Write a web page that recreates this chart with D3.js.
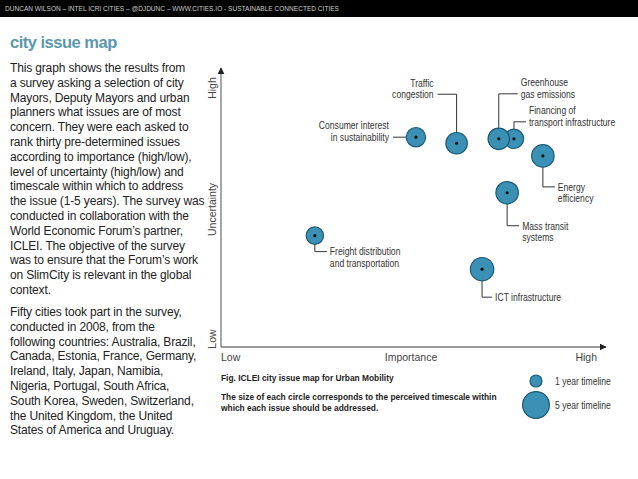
<!DOCTYPE html>
<html>
<head>
<meta charset="utf-8">
<script src="https://cdn.jsdelivr.net/npm/d3@7"></script>
<style>
  body { margin: 0; background: #fff; }
  svg { display: block; }
  .body-text { font-family: "Liberation Sans", Arial, sans-serif; font-size: 12px; fill: #222; letter-spacing: -0.15px; }
  .lbl { font-family: "Liberation Sans", Arial, sans-serif; font-size: 11px; fill: #333; }
  .axis-lbl { font-family: "Liberation Sans", Arial, sans-serif; font-size: 10.5px; fill: #444; }
</style>
</head>
<body>
<svg id="chart"></svg>
<script>
const width = 638;
const height = 479;

// survey results
const issues = ["Freight distribution and transportation", "Consumer interest in sustainability", "Traffic congestion",
  "Financing of transport infrastructure", "Greenhouse gas emissions", "Energy efficiency", "Mass transit systems", "ICT infrastructure"];
const labelLines = [["Freight distribution", "and transportation"], ["Consumer interest", "in sustainability"], ["Traffic", "congestion"],
  ["Financing of", "transport infrastructure"], ["Greenhouse", "gas emissions"], ["Energy", "efficiency"], ["Mass transit", "systems"], ["ICT infrastructure"]];
const importance = [2.47, 5.13, 6.2, 7.71, 7.31, 8.47, 7.53, 6.87];
const uncertainty = [4.05, 7.63, 7.41, 7.57, 7.57, 6.95, 5.61, 2.83];
const timescale = [2.1, 2.6, 3.2, 2.6, 3.2, 3.5, 3.5, 3.8];

// how each label's leader line is routed
const leaders = [
  {dir: "downRight", dy: 16, dx: 12},
  {dir: "left", dy: 0, dx: -23},
  {dir: "upLeft", dy: -49, dx: -19},
  {dir: "upRight", dy: -17, dx: 12},
  {dir: "upRight", dy: -45, dx: 19},
  {dir: "downRight", dy: 31, dx: 12},
  {dir: "downRight", dy: 33, dx: 12},
  {dir: "downRight", dy: 28, dx: 10}
];

const legendYears = [1, 5];

const para1 = ["This graph shows the results from", "a survey asking a selection of city", "Mayors, Deputy Mayors and urban",
  "planners what issues are of most", "concern. They were each asked to", "rank thirty pre-determined issues",
  "according to importance (high/low),", "level of uncertainty (high/low) and", "timescale within which to address",
  "the issue (1-5 years). The survey was", "conducted in collaboration with the", "World Economic Forum\u2019s partner,",
  "ICLEI. The objective of the survey", "was to ensure that the Forum\u2019s work", "on SlimCity is relevant in the global", "context."];
const para2 = ["Fifty cities took part in the survey,", "conducted in 2008, from the", "following countries: Australia, Brazil,",
  "Canada, Estonia, France, Germany,", "Ireland, Italy, Japan, Namibia,", "Nigeria, Portugal, South Africa,",
  "South Korea, Sweden, Switzerland,", "the United Kingdom, the United", "States of America and Uruguay."];

const narrow = 0.78; // horizontal squeeze for the condensed label face

const svg = d3.select("#chart")
    .attr("width", width)
    .attr("height", height);

// header bar
svg.append("rect").attr("width", width).attr("height", 17).attr("fill", "#000");
svg.append("text")
    .attr("x", 5).attr("y", 11)
    .attr("font-family", "Liberation Sans, Arial, sans-serif")
    .attr("font-size", 7.4).attr("fill", "#ccc")
    .attr("textLength", 334).attr("lengthAdjust", "spacingAndGlyphs")
    .text("DUNCAN WILSON \u2013 INTEL ICRI CITIES \u2013 @DJDUNC \u2013 WWW.CITIES.IO - SUSTAINABLE CONNECTED CITIES");

svg.append("text")
    .attr("x", 10).attr("y", 48)
    .attr("font-family", "Liberation Sans, Arial, sans-serif")
    .attr("font-weight", "bold").attr("font-size", 16.5)
    .attr("letter-spacing", -0.5)
    .attr("fill", "#5b98ae")
    .text("city issue map");

const lineH = 14.8;
svg.append("g").selectAll("text")
    .data(para1)
    .join("text")
    .attr("class", "body-text")
    .attr("x", 10)
    .attr("y", (d, i) => 72 + i * lineH)
    .text(d => d);

svg.append("g").selectAll("text")
    .data(para2)
    .join("text")
    .attr("class", "body-text")
    .attr("x", 10)
    .attr("y", (d, i) => 316 + i * lineH)
    .text(d => d);

// scales
const x = d3.scaleLinear().domain([0, 10]).range([221, 601]);
const y = d3.scaleLinear().domain([0, 10]).range([347, 72]);
const r = d3.scaleSqrt().domain([0, 5]).range([0, 13.4]);

const axisColor = "#777";
svg.append("defs").append("marker")
    .attr("id", "arrow")
    .attr("viewBox", "0 0 10 10")
    .attr("refX", 9).attr("refY", 5)
    .attr("markerWidth", 7).attr("markerHeight", 7)
    .attr("markerUnits", "userSpaceOnUse")
    .attr("orient", "auto")
    .append("path").attr("d", "M0,0L10,5L0,10z").attr("fill", "#222");

svg.append("line")
    .attr("x1", x(0)).attr("y1", y(0))
    .attr("x2", x(0)).attr("y2", y(10) - 4)
    .attr("stroke", axisColor).attr("stroke-width", 1.3)
    .attr("marker-end", "url(#arrow)");
svg.append("line")
    .attr("x1", x(0)).attr("y1", y(0))
    .attr("x2", x(10) + 5).attr("y2", y(0))
    .attr("stroke", axisColor).attr("stroke-width", 1.3)
    .attr("marker-end", "url(#arrow)");

// axis labels
svg.append("text").attr("class", "axis-lbl").attr("x", x(0)).attr("y", 361).text("Low");
svg.append("text").attr("class", "axis-lbl").attr("x", x(5)).attr("y", 361).attr("text-anchor", "middle").text("Importance");
svg.append("text").attr("class", "axis-lbl").attr("x", x(10) - 4).attr("y", 361).attr("text-anchor", "end").text("High");

const yl = [["High", y(10) + 16], ["Uncertainty", y(5)], ["Low", y(0) - 8]];
svg.append("g").selectAll("text")
    .data(yl)
    .join("text")
    .attr("class", "axis-lbl")
    .attr("text-anchor", "middle")
    .attr("transform", d => `translate(216,${d[1]}) rotate(-90)`)
    .text(d => d[0]);

// leader lines and labels
const order = d3.range(issues.length);
const ann = svg.append("g");
order.forEach(i => {
  const cx = x(importance[i]), cy = y(uncertainty[i]);
  const L = leaders[i];
  const ex = cx + L.dx, ey = cy + L.dy;
  const n = labelLines[i].length;
  let path, tx, anchor, firstY;
  if (L.dir === "left") {
    path = `M${cx},${cy}H${ex}`;
    tx = ex - 4; anchor = "end"; firstY = ey - (n - 1) * 11.5;
  } else if (L.dir === "upLeft") {
    path = `M${cx},${cy}V${ey}H${ex}`;
    tx = ex - 4; anchor = "end"; firstY = ey - (n - 1) * 11.5;
  } else if (L.dir === "upRight") {
    path = `M${cx},${cy}V${ey}H${ex}`;
    tx = ex + 3; anchor = "start"; firstY = ey - (n - 1) * 11.5;
  } else {
    path = `M${cx},${cy}V${ey}H${ex}`;
    tx = ex + 3; anchor = "start"; firstY = ey;
  }
  ann.append("path").attr("d", path).attr("fill", "none").attr("stroke", "#333").attr("stroke-width", 1);
  ann.append("text")
      .attr("class", "lbl")
      .attr("text-anchor", anchor)
      .attr("transform", `translate(${tx},0) scale(${narrow},1)`)
      .selectAll("tspan")
      .data(labelLines[i])
      .join("tspan")
      .attr("x", 0)
      .attr("y", (d, j) => firstY + j * 11.5 + 3.8)
      .text(d => d);
});

// bubbles
const bubbles = svg.append("g").selectAll("g")
    .data(order)
    .join("g")
    .attr("transform", i => `translate(${x(importance[i])},${y(uncertainty[i])})`);

bubbles.append("circle")
    .attr("r", i => r(timescale[i]))
    .attr("fill", "#3a90b5")
    .attr("stroke", "#1d5a74")
    .attr("stroke-width", 1.2);

bubbles.append("circle")
    .attr("r", 1.6)
    .attr("fill", "#111");

// caption
svg.append("text")
    .attr("x", 221).attr("y", 381)
    .attr("font-family", "Liberation Sans, Arial, sans-serif")
    .attr("font-weight", "bold").attr("font-size", 8.4).attr("fill", "#222")
    .text("Fig. ICLEI city issue map for Urban Mobility");
svg.append("text")
    .attr("font-family", "Liberation Sans, Arial, sans-serif")
    .attr("font-weight", "bold").attr("font-size", 8.4).attr("fill", "#222")
    .selectAll("tspan")
    .data(["The size of each circle corresponds to the perceived timescale within", "which each issue should be addressed."])
    .join("tspan")
    .attr("x", 221)
    .attr("y", (d, i) => 400 + i * 10.5)
    .text(d => d);

// legend
const legend = svg.append("g").selectAll("g")
    .data(legendYears)
    .join("g")
    .attr("transform", (d, i) => `translate(536,${381 + i * 24})`);
legend.append("circle")
    .attr("r", d => r(d))
    .attr("fill", "#3a90b5")
    .attr("stroke", "#1d5a74")
    .attr("stroke-width", 1.2);
legend.append("text")
    .attr("class", "lbl")
    .attr("transform", `translate(19,3.8) scale(${narrow},1)`)
    .attr("fill", "#444")
    .text(d => `${d} year timeline`);
</script>
</body>
</html>
